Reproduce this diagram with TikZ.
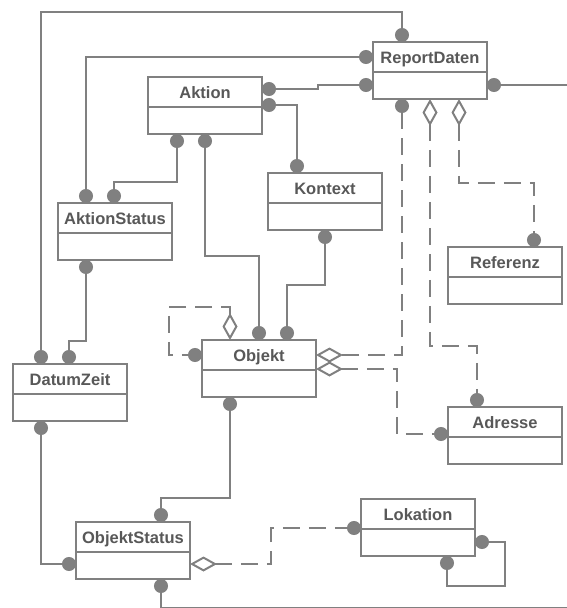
\documentclass[tikz,border=0pt]{standalone}
\usepackage{fontspec}
\setmainfont{Liberation Sans}
\usetikzlibrary{arrows.meta}
\definecolor{umlline}{RGB}{128,128,128}
\definecolor{umltext}{RGB}{88,88,88}
\tikzset{
  endball/.tip={Circle[length=14pt]},
  aggr/.tip={Diamond[open,length=27pt,width=15pt]},
  cls/.style={draw=umlline, line width=2pt, fill=white, minimum width=114pt,
    minimum height=57pt, anchor=north west, outer sep=0pt, inner sep=0pt},
  ttl/.style={text=umltext, font=\fontsize{16.5}{18}\selectfont\bfseries,
    anchor=base, inner sep=0pt},
  conn/.style={draw=umlline, line width=2pt},
  dconn/.style={conn, dash pattern=on 17pt off 9pt},
}
% class box: name, north-west corner, title
\newcommand{\umlclass}[3]{%
  \node[cls] (#1) at (#2) {};
  \node[ttl] (#1-title) at ([yshift=-21pt]#1.north) {#3};
  \draw[conn] ([yshift=-30pt]#1.north west) -- ([yshift=-30pt]#1.north east);
}
\begin{document}
\begin{tikzpicture}[x=1pt, y=-1pt]
\useasboundingbox (0,0) rectangle (566,608);

% classes
\umlclass{rd}{373,42}{ReportDaten}
\umlclass{ak}{148,77}{Aktion}
\umlclass{ko}{268,173}{Kontext}
\umlclass{as}{58,203}{AktionStatus}
\umlclass{rf}{448,247}{Referenz}
\umlclass{dz}{13,364}{DatumZeit}
\umlclass{ob}{202,340}{Objekt}
\umlclass{ad}{448,407}{Adresse}
\umlclass{os}{76,522}{ObjektStatus}
\umlclass{lk}{361,499}{Lokation}

% solid associations
\draw[conn, {endball}-{endball}] ([xshift=28pt]dz.north west) |- (402,12)
  -- ([xshift=29pt]rd.north west);
\draw[conn, {endball}-{endball}] ([xshift=28pt]as.north west)
  |- ([yshift=-15pt]rd.north west);
\draw[conn, {endball}-{endball}] ([yshift=-12pt]ak.north east) -- (318,89)
  -- (318,85) -- ([yshift=-43pt]rd.north west);
\draw[conn, {endball}-{endball}] ([yshift=-28pt]ak.north east)
  -| ([xshift=29pt]ko.north west);
\draw[conn, {endball}-{endball}] ([xshift=29pt]ak.south west) -- ++(0,48)
  -| ([xshift=56pt]as.north west);
\draw[conn, {endball}-{endball}] ([xshift=57pt]ak.south west) -- ++(0,122)
  -| ([xshift=57pt]ob.north west);
\draw[conn, {endball}-{endball}] ([xshift=57pt]ko.south west) -- ++(0,55)
  -| ([xshift=85pt]ob.north west);
\draw[conn, {endball}-{endball}] ([xshift=28pt]as.south west) -- ++(0,81)
  -| ([xshift=56pt]dz.north west);
\draw[conn, {endball}-{endball}] ([xshift=28pt]dz.south west)
  |- ([yshift=-42pt]os.north west);
\draw[conn, {endball}-{endball}] ([xshift=28pt]ob.south west) -- ++(0,101)
  -| ([xshift=85pt]os.north west);
\draw[conn, {endball}-] ([xshift=85pt]os.south west) |- (570,608);
\draw[conn, {endball}-] ([yshift=-43pt]rd.north east) -- ++(90,0);
\draw[conn, {endball}-{endball}] ([yshift=-43pt]lk.north east) -- ++(30,0)
  -- ++(0,44) -| ([xshift=86pt]lk.south west);

% dashed aggregations
\draw[dconn, {endball}-{aggr}] ([xshift=29pt]rd.south west)
  |- ([yshift=-15pt]ob.north east);
\draw[dconn, {aggr}-{endball}] ([yshift=-29pt]ob.north east) -- ++(81,0)
  |- ([yshift=-27pt]ad.north west);
\draw[dconn, {aggr}-{endball}] ([xshift=57pt]rd.south west) -- ++(0,247)
  -| ([xshift=29pt]ad.north west);
\draw[dconn, {aggr}-{endball}] ([xshift=86pt]rd.south west) -- ++(0,84)
  -| ([xshift=86pt]rf.north west);
\draw[dconn, {aggr}-{endball}] ([xshift=28pt]ob.north west) -- ++(0,-33)
  -- ++(-61,0) |- ([yshift=-15pt]ob.north west);
\draw[dconn, {aggr}-{endball}] ([yshift=-42pt]os.north east) -- ++(81,0)
  |- ([yshift=-29pt]lk.north west);
\end{tikzpicture}
\end{document}
